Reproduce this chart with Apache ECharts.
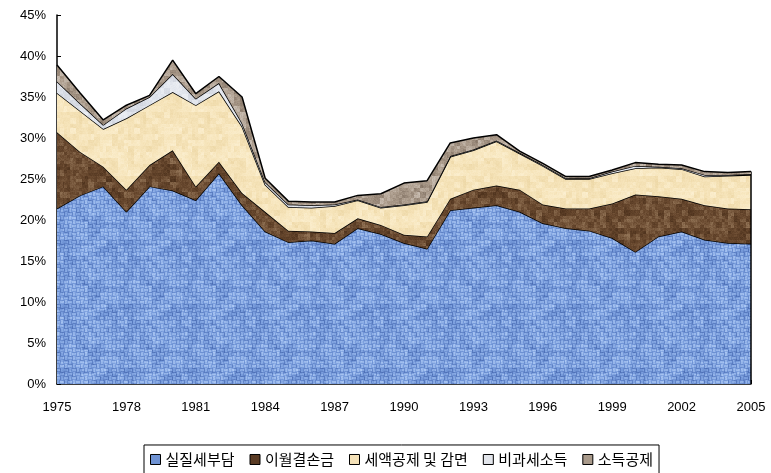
<!DOCTYPE html>
<html>
<head>
<meta charset="utf-8">
<script src="https://cdn.jsdelivr.net/npm/echarts@6/dist/echarts.min.js"></script>
<style>
  html, body { margin: 0; padding: 0; background: #fff; }
  #chart { width: 771px; height: 473px; }
</style>
</head>
<body>
<div id="chart"></div>
<script>
// Years on the horizontal axis
const years = [1975,1976,1977,1978,1979,1980,1981,1982,1983,1984,1985,1986,1987,1988,1989,1990,
               1991,1992,1993,1994,1995,1996,1997,1998,1999,2000,2001,2002,2003,2004,2005].map(String);

// Stacked components, % of income
const silJil   = [21.4,23.0,24.1,21.0,24.1,23.6,22.4,25.7,21.8,18.6,17.3,17.5,17.1,19.0,18.3,17.2,
                  16.5,21.2,21.5,21.8,21.0,19.6,19.0,18.7,17.8,16.1,18.0,18.6,17.6,17.2,17.1];
const iwol     = [9.3,5.3,2.4,2.7,2.6,4.9,1.7,1.4,1.5,2.4,1.4,1.1,1.3,1.2,1.1,1.0,
                  1.5,1.4,2.2,2.4,2.7,2.3,2.4,2.7,4.2,7.0,4.9,4.0,4.2,4.2,4.2];
const seaek    = [4.8,5.0,4.6,8.7,7.3,7.1,9.9,8.6,8.1,3.3,2.9,2.9,3.3,2.2,2.1,3.6,
                  4.2,5.1,4.8,5.4,4.4,4.7,3.6,3.6,3.7,3.2,3.5,3.6,3.5,4.0,4.2];
const bigwa    = [1.4,0.9,0.5,1.2,1.0,2.2,0.8,1.0,0.4,0.3,0.3,0.3,0.2,0.1,0.1,0.1,
                  0.1,0.1,0.1,0.1,0.1,0.1,0.1,0.1,0.2,0.3,0.1,0.1,0.2,0.1,0.1];
const sodeuk   = [2.0,1.3,0.6,0.4,0.2,1.7,0.6,0.8,3.2,0.5,0.4,0.4,0.3,0.5,1.6,2.6,
                  2.5,1.6,1.4,0.7,0.2,0.2,0.2,0.2,0.2,0.4,0.3,0.4,0.4,0.3,0.3];

const seriesNames = ['실질세부담', '이월결손금', '세액공제 및 감면', '비과세소득', '소득공제'];
const yTicks = { min: 0, max: 45, step: 5 };

// Deterministic hash noise for fabric-like fills
function hash(x, y, s) {
  const v = Math.sin(x * 127.1 + y * 311.7 + s * 74.7) * 43758.5453;
  return v - Math.floor(v);
}
function mix(a, b, t) {
  return [0,1,2].map(i => Math.round(a[i] + (b[i] - a[i]) * t));
}
function makeTexture(size, base, dark, light, seed, weave) {
  const c = document.createElement('canvas');
  c.width = size; c.height = size;
  const ctx = c.getContext('2d');
  const img = ctx.createImageData(size, size);
  for (let y = 0; y < size; y++) {
    for (let x = 0; x < size; x++) {
      let n = 0.5 * hash(Math.floor(x / 6), Math.floor(y / 6), seed)
            + 0.3 * hash(Math.floor(x / 3), Math.floor(y / 3), seed + 1)
            + 0.2 * hash(x, y, seed + 2);
      if (weave) {
        const cx = Math.floor(x / 4), cy = Math.floor(y / 4);
        const horiz = (cx + cy) % 2 === 0;
        const t = horiz ? (y % 4) : (x % 4);
        n = 0.55 * n + 0.45 * (t === 0 ? 0.05 : (t === 3 ? 0.35 : 0.85));
      }
      const col = n < 0.5 ? mix(dark, base, n * 2) : mix(base, light, (n - 0.5) * 2);
      const k = (y * size + x) * 4;
      img.data[k] = col[0]; img.data[k + 1] = col[1]; img.data[k + 2] = col[2]; img.data[k + 3] = 255;
    }
  }
  ctx.putImageData(img, 0, 0);
  return c;
}

const texBlue  = makeTexture(64, [120,156,220], [70,104,176], [186,212,250], 3, true);
const texBrown = makeTexture(64, [104,72,46], [70,44,24], [150,120,90], 7, false);
const texBeige = makeTexture(64, [246,228,186], [236,214,164], [252,240,210], 11, false);
const texGray  = makeTexture(64, [224,228,236], [206,210,220], [240,242,246], 13, false);
const texTaupe = makeTexture(64, [170,154,138], [128,112,98], [210,200,190], 17, false);

const dataSets = [silJil, iwol, seaek, bigwa, sodeuk];
const solids = ['#6f93d4', '#5a3b24', '#f5e2b8', '#e2e5eb', '#a99a8b'];
const textures = [texBlue, texBrown, texBeige, texGray, texTaupe];

const chart = echarts.init(document.getElementById('chart'), null, { renderer: 'canvas' });

const series = seriesNames.map((name, i) => ({
  name,
  type: 'line',
  stack: 'total',
  data: dataSets[i],
  symbol: 'none',
  smooth: false,
  lineStyle: { color: '#000', width: 1.5 },
  itemStyle: { color: solids[i] },
  areaStyle: { color: { image: textures[i], repeat: 'repeat' }, opacity: 1 },
  z: 2 + i
}));

// closing edge at the last year
const totals = years.map((_, j) => dataSets.reduce((s, d) => s + d[j], 0));
series[4].markLine = {
  symbol: 'none',
  silent: true,
  label: { show: false },
  lineStyle: { color: '#000', width: 1.5, type: 'solid' },
  data: [[{ coord: [years[years.length - 1], 0] }, { coord: [years[years.length - 1], totals[totals.length - 1]] }]]
};

chart.setOption({
  animation: false,
  backgroundColor: '#fff',
  grid: { left: 57, right: 20, top: 15, bottom: 89, containLabel: false },
  legend: {
    data: seriesNames,
    bottom: -3,
    left: 144,
    icon: 'rect',
    itemWidth: 10,
    itemHeight: 10,
    itemGap: 15,
    padding: [7, 6, 9, 6],
    borderColor: '#000',
    borderWidth: 1,
    itemStyle: { borderColor: '#000', borderWidth: 1 },
    textStyle: { fontFamily: 'Noto Sans CJK KR', fontSize: 15, color: '#000' }
  },
  xAxis: {
    type: 'category',
    data: years,
    boundaryGap: false,
    axisLine: { lineStyle: { color: '#000', width: 1.5 } },
    axisTick: { inside: true, interval: 0, length: 4, lineStyle: { color: '#000' } },
    axisLabel: {
      interval: 2,
      margin: 17,
      fontFamily: 'Liberation Sans',
      fontSize: 13,
      color: '#000'
    },
    splitLine: { show: false }
  },
  yAxis: {
    type: 'value',
    min: yTicks.min,
    max: yTicks.max,
    interval: yTicks.step,
    axisLine: { show: true, lineStyle: { color: '#000', width: 1.5 } },
    axisTick: { show: true, inside: true, length: 4, lineStyle: { color: '#000' } },
    axisLabel: {
      formatter: '{value}%',
      margin: 11,
      fontFamily: 'Liberation Sans',
      fontSize: 13,
      color: '#000'
    },
    splitLine: { show: false }
  },
  series
});
</script>
</body>
</html>
